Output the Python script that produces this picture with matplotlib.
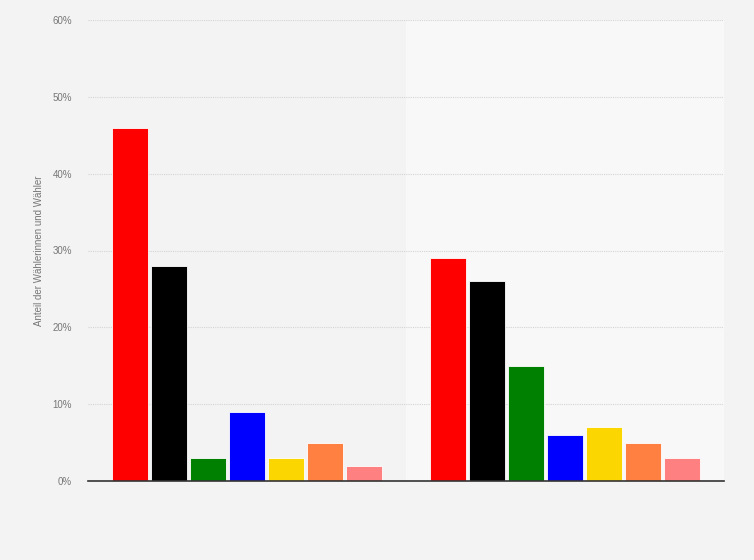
import matplotlib
matplotlib.use("Agg")
import matplotlib.pyplot as plt
import numpy as np
from matplotlib.ticker import FuncFormatter

plt.rcParams["font.family"] = ["Liberation Sans", "DejaVu Sans"]

categories = ["", ""]
parties = ["Partei 1", "Partei 2", "Partei 3", "Partei 4", "Partei 5", "Partei 6", "Partei 7"]
values = {
    "Partei 1": [46, 29],
    "Partei 2": [28, 26],
    "Partei 3": [3, 15],
    "Partei 4": [9, 6],
    "Partei 5": [3, 7],
    "Partei 6": [5, 5],
    "Partei 7": [2, 3],
}
colors = ["#ff0000", "#000000", "#008000", "#0000ff", "#fbd600", "#ff8040", "#ff8080"]
yticks = [0, 10, 20, 30, 40, 50, 60]

bg = "#f3f3f3"
fig = plt.figure(figsize=(7.54, 5.60), dpi=100, facecolor=bg)
ax = fig.add_axes([88/754, 1-481/560, 636/754, 461/560])
ax.set_facecolor(bg)

x = np.arange(len(categories))
n = len(parties)
pitch = 0.1226
width = 0.113
ax.axvspan(0.5, 1.5, color="#f8f8f8", zorder=0)
for i, p in enumerate(parties):
    ax.bar(x + (i - (n-1)/2) * pitch, values[p], width=width, color=colors[i],
           edgecolor="white", linewidth=0.6, zorder=3)

ax.set_xlim(-0.5, 1.5)
ax.set_ylim(0, 60)
ax.set_yticks(yticks)
ax.yaxis.set_major_formatter(FuncFormatter(lambda v, _: f"{int(v)}%"))
ax.set_xticks(x)
ax.set_xticklabels(categories)
ax.tick_params(axis="both", length=0, labelsize=7, colors="#777777")
ax.tick_params(axis="y", pad=11.5)
ax.grid(axis="y", linestyle=(0, (1, 1)), color="#d4d4d4", linewidth=0.8, zorder=1)
for s in ["top", "right", "left"]:
    ax.spines[s].set_visible(False)
ax.spines["bottom"].set_color("#333333")
ax.spines["bottom"].set_linewidth(1.2)
ax.spines["bottom"].set_zorder(4)
ax.set_ylabel("Anteil der Wählerinnen und Wähler", fontsize=7, color="#777777")
ax.yaxis.set_label_coords(-0.069, 0.5)

fig.savefig("out.png", dpi=100, facecolor=bg)
